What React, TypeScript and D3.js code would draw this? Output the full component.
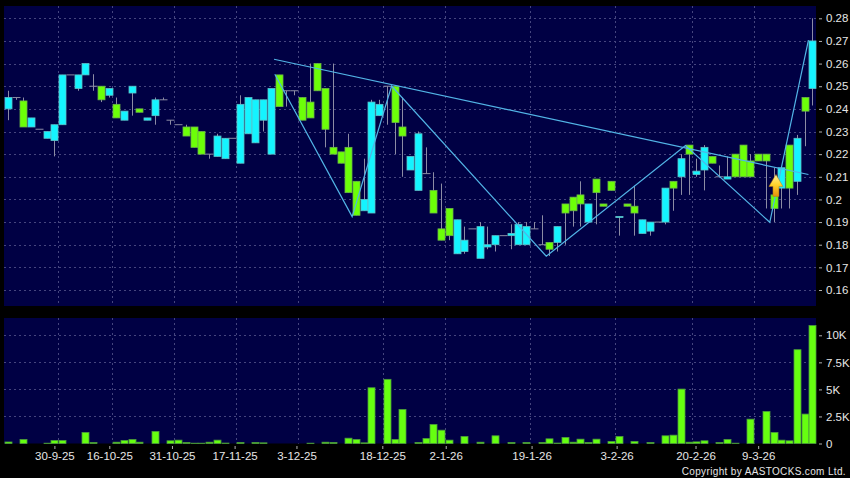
import React, {useEffect, useRef} from 'react'
import * as d3 from 'd3'

const width = 850
const height = 478

// daily prices, one entry per trading slot
const opens = [
  .24, .245, .2435, .232, .231, .227, .226, .233, .255, .249,
  .255, .25, .25, .246, .242, .235, .247, .24, .235, .237,
  .244, .235, .233, .232, .232, .23, .22, .219, .218, .227,
  .216, .229, .225, .235, .22, .255, .248, .248, .245, .243,
  .26, .249, .223, .221, .223, .208, .195, .194, .237, .25,
  .25, .232, .213, .204, .2114, .204, .187, .196, .176, .177,
  .187, .174, .179, .18, .184, .184, .18, .18, .187, .18,
  .181, .181, .198, .201, .202, .19, .209, .198, .208, .192,
  .198, .197, .185, .186, .19, .19, .208, .21, .224, .211,
  .213, .219, .21, .209, .22, .224, .217, .22, .22, .202,
  .205, .224, .208, .245, .249,
]
const closes = [
  .245, .245, .232, .236, .231, .23, .233, .255, .255, .255,
  .26, .25, .244, .249, .236, .239, .25, .2385, .236, .244,
  .244, .235, .233, .228, .223, .22, .22, .228, .227, .227,
  .242, .245, .244, .244, .249, .241, .248, .248, .235, .236,
  .248, .231, .22, .216, .203, .193, .2, .243, .242, .25,
  .234, .228, .219, .229, .2114, .194, .182, .184, .191, .182,
  .187, .188, .18, .184, .184, .185, .189, .188, .187, .18,
  .178, .188, .194, .195, .198, .198, .203, .197, .204, .1925,
  .197, .194, .191, .19, .19, .205, .205, .218, .22, .2125,
  .223, .216, .21, .21, .21, .21, .21, .217, .217, .196,
  .214, .205, .227, .239, .27,
]
const highs = [
  .248, .245, .245, .236, .231, .23, .233, .255, .255, .255,
  .26, .2553, .25, .249, .245, .239, .25, .24, .236, .245,
  .245, .235, .233, .233, .232, .23, .22, .229, .227, .227,
  .246, .245, .244, .244, .249, .255, .248, .248, .245, .26,
  .26, .249, .26, .221, .229, .208, .218, .244, .244, .25,
  .25, .245, .219, .23, .223, .212, .207, .196, .191, .188,
  .187, .19, .188, .184, .184, .189, .19, .19, .19, .193,
  .181, .188, .198, .201, .208, .198, .209, .198, .208, .1925,
  .198, .206, .191, .19, .19, .205, .208, .22, .224, .218,
  .224, .219, .215, .219, .22, .224, .22, .22, .22, .214,
  .214, .224, .2285, .245, .28,
]
const lows = [
  .235, .244, .232, .232, .231, .227, .219, .233, .255, .248,
  .255, .248, .243, .245, .236, .235, .237, .2385, .235, .233,
  .244, .233, .233, .228, .223, .22, .218, .219, .218, .227,
  .216, .229, .225, .23, .22, .241, .241, .246, .235, .236,
  .248, .223, .22, .216, .203, .193, .195, .194, .237, .233,
  .22, .21, .213, .204, .2114, .194, .182, .182, .176, .176,
  .187, .174, .178, .177, .184, .178, .18, .18, .187, .18,
  .175, .177, .18, .188, .188, .19, .189, .197, .204, .184,
  .197, .184, .185, .184, .19, .189, .195, .202, .202, .21,
  .204, .216, .21, .209, .21, .21, .21, .217, .196, .19,
  .196, .196, .202, .2235, .2415,
]
const volumes = [
  140, 0, 370, 0, 0, 30, 280, 280, 0, 0,
  1020, 90, 0, 0, 120, 280, 370, 120, 0, 1110,
  0, 250, 310, 90, 30, 30, 120, 310, 40, 0,
  90, 0, 90, 60, 0, 0, 0, 0, 0, 30,
  0, 120, 90, 0, 490, 370, 60, 5150, 0, 5930,
  370, 3150, 0, 90, 460, 1760, 1230, 310, 0, 650,
  0, 120, 0, 710, 0, 90, 0, 90, 0, 90,
  430, 40, 560, 120, 400, 90, 400, 0, 190, 650,
  0, 190, 0, 90, 0, 710, 770, 5030, 120, 150,
  250, 0, 90, 370, 30, 0, 2250, 0, 2960, 1020,
  310, 250, 8670, 2720, 10900,
]

const priceTicks = [.28, .27, .26, .25, .24, .23, .22, .21, .2, .19, .18, .17, .16]
const volumeTicks = [0, 2500, 5000, 7500, 10000]
const volumeLabels = ['0', '2.5K', '5K', '7.5K', '10K']
const dateTicks = [6, 13.1, 21.2, 29.3, 37.3, 48.4, 56.6, 67.7, 78.7, 88.9, 97]
const dateLabels = ['30-9-25', '16-10-25', '31-10-25', '17-11-25', '3-12-25', '18-12-25', '2-1-26', '19-1-26', '3-2-26', '20-2-26', '9-3-26']
const gridSlots = [6.5, 13.5, 21.5, 29.5, 37.5, 48.5, 56.5, 67.5, 78.5, 88.5, 96.5]

// drawn lines, [slot, price]
const trendLine: [number, number][] = [[34.4, .2619], [103.5, .211]]
const zigzag: [number, number][] = [[34.5, .2553], [44.5, .1924], [49.6, .2501], [69.6, .1749], [87.6, .2238], [98.5, .1899], [103.5, .2704]]
const arrowAt: [number, number] = [99.3, .2]

const panelLeft = 4
const panelRight = 816
const fontFamily = '"Liberation Sans", Arial, sans-serif'
const textColor = '#e6e6e6'
const gridColor = '#45457e'
const wickColor = '#8c8ca4'
const bodyWidth = 7

function App() {
  const ref = useRef<SVGSVGElement | null>(null)

  useEffect(() => {
    const svg = d3.select(ref.current)
    svg.selectAll('*').remove()

    const x = d3.scaleLinear().domain([0, 104]).range([8, 812.3])
    const y = d3.scaleLinear().domain([.28, .16]).range([18.3, 290])
    const yVol = d3.scaleLinear().domain([0, 10000]).range([443.5, 335.3])

    const defs = svg.append('defs')
    const grad = defs.append('linearGradient').attr('id', 'arrowFill').attr('x1', 0).attr('y1', 0).attr('x2', 0).attr('y2', 1)
    grad.append('stop').attr('offset', '0%').attr('stop-color', '#fff0a0')
    grad.append('stop').attr('offset', '45%').attr('stop-color', '#ffd52e')
    grad.append('stop').attr('offset', '100%').attr('stop-color', '#e8900c')

    svg.append('rect').attr('width', width).attr('height', height).attr('fill', '#000')

    // panels
    svg.append('rect').attr('x', panelLeft).attr('y', 6).attr('width', panelRight - panelLeft).attr('height', 300).attr('fill', '#000044')
    svg.append('rect').attr('x', panelLeft).attr('y', 318).attr('width', panelRight - panelLeft).attr('height', 125.5).attr('fill', '#000044')

    // grid
    const grid = svg.append('g').attr('stroke', gridColor).attr('stroke-dasharray', '2 3').attr('stroke-width', 1)
    priceTicks.forEach(t => {
      grid.append('line').attr('x1', panelLeft).attr('x2', panelRight).attr('y1', Math.round(y(t)) + .5).attr('y2', Math.round(y(t)) + .5)
    })
    volumeTicks.slice(1).forEach(t => {
      grid.append('line').attr('x1', panelLeft).attr('x2', panelRight).attr('y1', Math.round(yVol(t)) + .5).attr('y2', Math.round(yVol(t)) + .5)
    })
    gridSlots.forEach(s => {
      const gx = Math.round(x(s)) + .5
      grid.append('line').attr('x1', gx).attr('x2', gx).attr('y1', 6).attr('y2', 306)
      grid.append('line').attr('x1', gx).attr('x2', gx).attr('y1', 318).attr('y2', 443.5)
    })

    // candles
    const candles = svg.append('g')
    opens.forEach((o, i) => {
      const c = closes[i]
      const cx = Math.round(x(i)) + .5
      candles.append('line').attr('x1', cx).attr('x2', cx)
        .attr('y1', y(highs[i])).attr('y2', y(lows[i]))
        .attr('stroke', wickColor)
      if (o === c) {
        candles.append('line').attr('x1', cx - 4).attr('x2', cx + 4)
          .attr('y1', y(o)).attr('y2', y(o))
          .attr('stroke', wickColor)
        return
      }
      const up = c > o
      candles.append('rect')
        .attr('x', cx - bodyWidth / 2).attr('width', bodyWidth)
        .attr('y', y(Math.max(o, c))).attr('height', Math.abs(y(o) - y(c)))
        .attr('fill', up ? '#14f4ff' : '#6cff08')
        .attr('stroke', up ? '#5cc0c8' : '#6cb448')
        .attr('stroke-width', .8)
    })

    // volume
    const bars = svg.append('g')
    volumes.forEach((v, i) => {
      if (v === 0) return
      const cx = Math.round(x(i)) + .5
      bars.append('rect')
        .attr('x', cx - bodyWidth / 2).attr('width', bodyWidth)
        .attr('y', yVol(v)).attr('height', yVol(0) - yVol(v))
        .attr('fill', '#66ff10')
        .attr('stroke', '#4c9c3c')
        .attr('stroke-width', .8)
    })

    // drawn lines
    const line = d3.line<[number, number]>().x(d => x(d[0])).y(d => y(d[1]))
    svg.append('path').attr('d', line(trendLine)).attr('fill', 'none').attr('stroke', '#52b4e6').attr('stroke-width', 1.2)
    svg.append('path').attr('d', line(zigzag)).attr('fill', 'none').attr('stroke', '#52b4e6').attr('stroke-width', 1.2)

    // buy arrow
    const ax = x(arrowAt[0])
    const ay = y(arrowAt[1])
    const arrow = d3.path()
    arrow.moveTo(ax, ay - 25)
    arrow.lineTo(ax + 7, ay - 13)
    arrow.lineTo(ax + 3, ay - 13)
    arrow.lineTo(ax + 3, ay - 3)
    arrow.lineTo(ax - 3, ay - 3)
    arrow.lineTo(ax - 3, ay - 13)
    arrow.lineTo(ax - 7, ay - 13)
    arrow.closePath()
    svg.append('path').attr('d', arrow.toString()).attr('fill', 'url(#arrowFill)').attr('stroke', '#b87a10').attr('stroke-width', .5)

    // axes
    const styleAxis = (g: any) => {
      g.select('.domain').remove()
      g.selectAll('line').attr('stroke', '#b0b0b0')
      g.selectAll('text').attr('fill', textColor).attr('font-family', fontFamily).attr('font-size', 11.5)
    }
    svg.append('g').attr('transform', `translate(${panelRight + 3},0)`)
      .call(d3.axisRight(y).tickValues(priceTicks).tickSize(3).tickPadding(4).tickFormat(d => String(+(+d).toFixed(2))))
      .call(styleAxis)
    svg.append('g').attr('transform', `translate(${panelRight + 3},0)`)
      .call(d3.axisRight(yVol).tickValues(volumeTicks).tickSize(3).tickPadding(4).tickFormat((d, i) => volumeLabels[i]))
      .call(styleAxis)
    svg.append('g').attr('transform', 'translate(0,446)')
      .call(d3.axisBottom(x).tickValues(dateTicks).tickSize(3).tickPadding(3).tickFormat((d, i) => dateLabels[i]))
      .call(styleAxis)

    svg.append('text').attr('x', 846).attr('y', 475).attr('text-anchor', 'end')
      .attr('fill', textColor).attr('font-family', fontFamily).attr('font-size', 10).attr('letter-spacing', .35)
      .text('Copyright by AASTOCKS.com Ltd.')
  }, [])

  return <svg ref={ref} width={width} height={height} style={{position: 'absolute', left: 0, top: 0, display: 'block'}} />
}

export default App
